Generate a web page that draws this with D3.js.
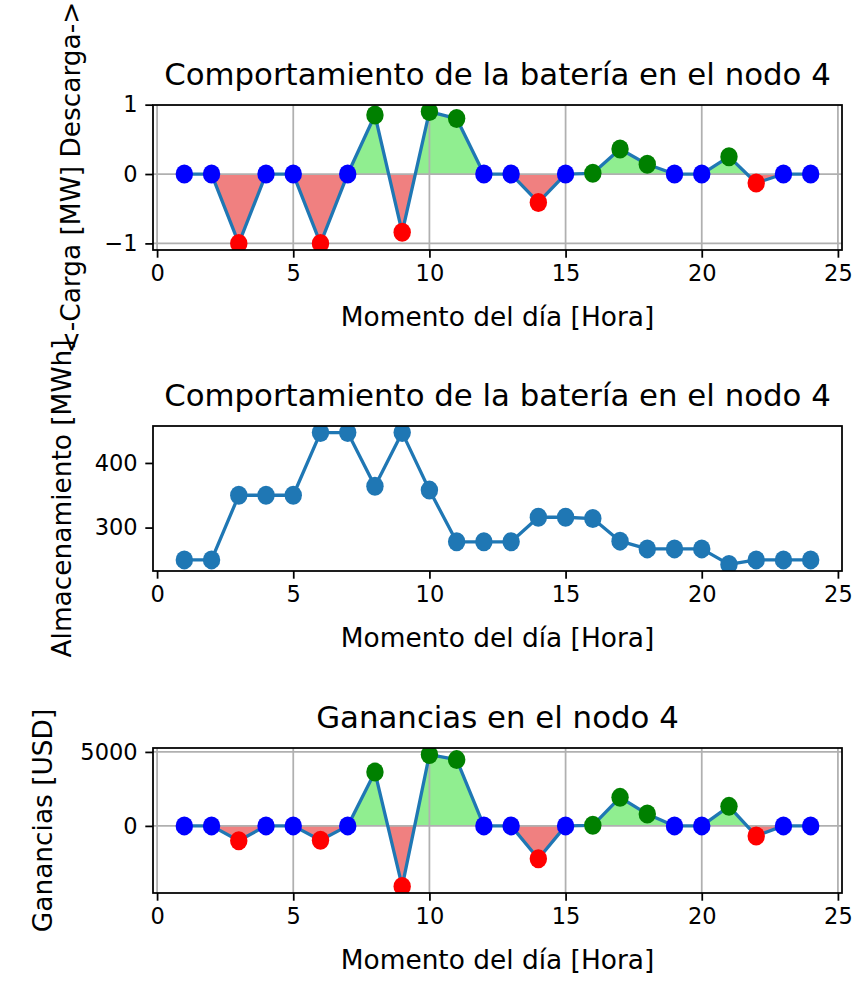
<!DOCTYPE html>
<html>
<head>
<meta charset="utf-8">
<script src="https://cdn.jsdelivr.net/npm/d3@7"></script>
<style>
  body { margin: 0; background: #fff; }
  text { font-family: "DejaVu Sans", sans-serif; fill: #000; }
</style>
</head>
<body>
<svg width="865" height="983"></svg>
<script>
// hours of the day
const horas = d3.range(1, 25);

// <-Carga [MW] Descarga->
const carga = [0, 0, -1, 0, 0, -1, 0, 0.85, -0.84, 0.90, 0.80, 0, 0, -0.41, 0, 0.01,
               0.36, 0.14, 0, 0, 0.25, -0.13, 0, 0];

// Almacenamiento [MWh]
const almacenamiento = [250, 250, 350, 350, 350, 447, 447, 364, 447, 358, 278, 278,
                        278, 316, 316, 314, 279, 267, 267, 267, 243, 250, 250, 250];

// Ganancias [USD]
const ganancias = [0, 0, -1000, 0, 0, -975, 0, 3640, -4090, 4820, 4480, 0, 0, -2220,
                   0, 40, 1930, 800, 0, 0, 1320, -680, 0, 0];

const xTicks = [0, 5, 10, 15, 20, 25];
const cargaTicks = [-1, 0, 1];
const almTicks = [300, 400];
const ganTicks = [0, 5000];

const titulos = ["Comportamiento de la batería en el nodo 4",
                 "Comportamiento de la batería en el nodo 4",
                 "Ganancias en el nodo 4"];
const yLabels = ["<-Carga [MW] Descarga->", "Almacenamiento [MWh]", "Ganancias [USD]"];
const xLabel = "Momento del día [Hora]";

const svg = d3.select("svg");
const left = 153, right = 842, h = 145;
const tops = [105, 426, 748];
const ylabX = [80, 71, 52];

const x = d3.scaleLinear().domain([-0.15, 25.15]).range([left, right]);

function padded(vals) {
  const [lo, hi] = d3.extent(vals);
  const m = (hi - lo) * 0.05;
  return [lo - m, hi + m];
}

function colorOf(v) {
  return v > 0 ? "#008000" : v < 0 ? "#ff0000" : "#0000ff";
}

function panel(i, vals, ticks, signed) {
  const top = tops[i], bottom = top + h;
  const y = d3.scaleLinear().domain(padded(vals)).range([bottom, top]);
  const g = svg.append("g");

  const clipId = "clip" + i;
  svg.append("clipPath").attr("id", clipId)
    .append("rect").attr("x", left).attr("y", top)
    .attr("width", right - left).attr("height", h);

  const plot = g.append("g").attr("clip-path", `url(#${clipId})`);

  if (signed) {
    const y0 = y(0);
    const upId = "up" + i, dnId = "dn" + i;
    svg.append("clipPath").attr("id", upId)
      .append("rect").attr("x", left).attr("y", top)
      .attr("width", right - left).attr("height", y0 - top);
    svg.append("clipPath").attr("id", dnId)
      .append("rect").attr("x", left).attr("y", y0)
      .attr("width", right - left).attr("height", bottom - y0);

    const area = d3.area()
      .x((d, j) => x(horas[j]))
      .y0(y0)
      .y1(d => y(d));

    plot.append("g").attr("clip-path", `url(#${upId})`)
      .append("path").datum(vals).attr("d", area).attr("fill", "#90ee90");
    plot.append("g").attr("clip-path", `url(#${dnId})`)
      .append("path").datum(vals).attr("d", area).attr("fill", "#f08080");

    // grid
    plot.selectAll(".gx").data(xTicks).enter().append("line")
      .attr("x1", d => x(d)).attr("x2", d => x(d))
      .attr("y1", top).attr("y2", bottom)
      .attr("stroke", "#b0b0b0").attr("stroke-width", 1.76);
    plot.selectAll(".gy").data(ticks).enter().append("line")
      .attr("x1", left).attr("x2", right)
      .attr("y1", d => y(d)).attr("y2", d => y(d))
      .attr("stroke", "#b0b0b0").attr("stroke-width", 1.76);
  }

  const line = d3.line().x((d, j) => x(horas[j])).y(d => y(d));
  plot.append("path").datum(vals).attr("d", line)
    .attr("fill", "none").attr("stroke", "#1f77b4").attr("stroke-width", 3.3)
    .attr("stroke-linejoin", "round");

  plot.selectAll("ellipse").data(vals).enter().append("ellipse")
    .attr("cx", (d, j) => x(horas[j]))
    .attr("cy", d => y(d))
    .attr("rx", 8.7).attr("ry", 9.5)
    .attr("fill", d => signed ? colorOf(d) : "#1f77b4");

  // axes
  const ax = g.append("g").attr("transform", `translate(0,${bottom})`)
    .call(d3.axisBottom(x).tickValues(xTicks).tickSizeOuter(0).tickSize(7.7).tickPadding(7.7));
  const ay = g.append("g").attr("transform", `translate(${left},0)`)
    .call(d3.axisLeft(y).tickValues(ticks).tickSizeOuter(0).tickSize(7.7).tickPadding(7.7)
      .tickFormat(d => d < 0 ? "\u2212" + Math.abs(d) : d));
  [ax, ay].forEach(a => {
    a.select(".domain").remove();
    a.selectAll(".tick line").attr("stroke", "#000").attr("stroke-width", 1.76);
    a.selectAll(".tick text").attr("font-size", 22.5).attr("font-family", "DejaVu Sans");
  });

  g.append("rect").attr("x", left).attr("y", top)
    .attr("width", right - left).attr("height", h)
    .attr("fill", "none").attr("stroke", "#000").attr("stroke-width", 1.76);

  g.append("text").attr("x", (left + right) / 2).attr("y", top - 20)
    .attr("text-anchor", "middle").attr("font-size", 30.8).text(titulos[i]);

  g.append("text").attr("x", (left + right) / 2).attr("y", bottom + 76)
    .attr("text-anchor", "middle").attr("font-size", 26.4).text(xLabel);

  g.append("text")
    .attr("transform", `translate(${ylabX[i]},${top + h / 2}) rotate(-90)`)
    .attr("text-anchor", "middle").attr("font-size", 26.4).text(yLabels[i]);
}

panel(0, carga, cargaTicks, true);
panel(1, almacenamiento, almTicks, false);
panel(2, ganancias, ganTicks, true);
</script>
</body>
</html>
